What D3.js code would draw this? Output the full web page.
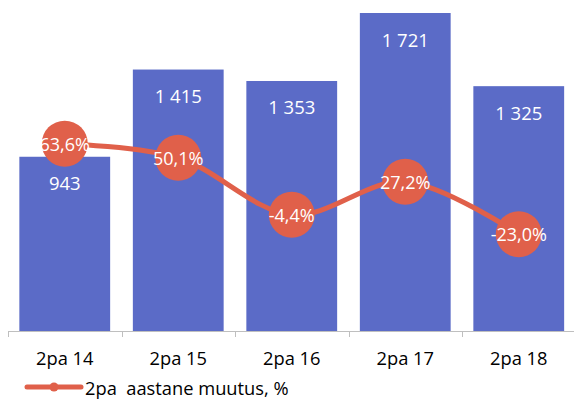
<!DOCTYPE html>
<html>
<head>
<meta charset="utf-8">
<script src="https://cdn.jsdelivr.net/npm/d3@7"></script>
<style>
  body { margin: 0; background: #fff; }
  svg { display: block; font-family: "Open Sans", sans-serif; }
</style>
</head>
<body>
<div id="chart"></div>
<script>
// Chart data
var categories = ['2pa 14', '2pa 15', '2pa 16', '2pa 17', '2pa 18'];
var counts = [943, 1415, 1353, 1721, 1325];
var changes = [63.6, 50.1, -4.4, 27.2, -23.0];
var legendLabel = '2pa  aastane muutus, %';

var width = 574;
var height = 401;
var baseY = 331;

var barColor = '#5B6BC7';
var lineColor = '#E0604A';

// Estonian number format: comma decimal, space thousands, plain hyphen minus
var et = d3.formatLocale({ decimal: ',', thousands: ' ', grouping: [3], currency: ['', ' €'], minus: '-' });
var fmtCount = et.format(',d');
var fmtPct = function (v) { return et.format('.1f')(v) + '%'; };

var svg = d3.select('#chart').append('svg')
  .attr('width', width)
  .attr('height', height);

var x = d3.scaleBand()
  .domain(categories)
  .range([8, 575.5])
  .paddingInner(0.2)
  .paddingOuter(0.1);

// primary axis for bars
var y = d3.scaleLinear()
  .domain([0, 1721])
  .range([baseY, 13]);

// secondary axis for the % line
var y2 = d3.scaleLinear()
  .domain([0, 60])
  .range([210.1, 147.4]);

var step = x.step();
function center(d) { return x(d) + x.bandwidth() / 2; }

// bars
svg.selectAll('.bar')
  .data(counts)
  .enter().append('rect')
  .attr('class', 'bar')
  .attr('x', function (d, i) { return x(categories[i]); })
  .attr('y', function (d) { return y(d); })
  .attr('width', x.bandwidth())
  .attr('height', function (d) { return baseY - y(d); })
  .attr('fill', barColor);

// bar value labels
svg.selectAll('.bar-label')
  .data(counts)
  .enter().append('text')
  .attr('class', 'bar-label')
  .attr('x', function (d, i) { return center(categories[i]); })
  .attr('y', function (d) { return y(d) + 26; })
  .attr('text-anchor', 'middle')
  .attr('dominant-baseline', 'central')
  .attr('fill', '#fff')
  .attr('font-size', 18.5)
  .style('white-space', 'pre')
  .text(function (d) { return fmtCount(d); });

// category axis
var axis = svg.append('g').attr('class', 'x-axis');
axis.append('line')
  .attr('x1', 8).attr('x2', width)
  .attr('y1', baseY + 0.5).attr('y2', baseY + 0.5)
  .attr('stroke', '#BFBFBF');

var tickPos = categories.map(function (c) { return center(c) - step / 2; });
tickPos.push(center(categories[categories.length - 1]) + step / 2);
axis.selectAll('.tick')
  .data(tickPos)
  .enter().append('line')
  .attr('x1', function (d) { return Math.round(d) + 0.5; })
  .attr('x2', function (d) { return Math.round(d) + 0.5; })
  .attr('y1', baseY).attr('y2', baseY + 6)
  .attr('stroke', '#BFBFBF');

axis.selectAll('.cat-label')
  .data(categories)
  .enter().append('text')
  .attr('x', function (d) { return center(d); })
  .attr('y', 357)
  .attr('text-anchor', 'middle')
  .attr('dominant-baseline', 'central')
  .attr('fill', '#000')
  .attr('font-size', 18.3)
  .text(function (d) { return d; });

// change line
var line = d3.line()
  .x(function (d, i) { return center(categories[i]); })
  .y(function (d) { return y2(d); })
  .curve(d3.curveCatmullRom.alpha(0.5));

svg.append('path')
  .datum(changes)
  .attr('d', line)
  .attr('fill', 'none')
  .attr('stroke', lineColor)
  .attr('stroke-width', 5)
  .attr('stroke-linecap', 'round');

svg.selectAll('.marker')
  .data(changes)
  .enter().append('circle')
  .attr('class', 'marker')
  .attr('cx', function (d, i) { return center(categories[i]); })
  .attr('cy', function (d) { return y2(d); })
  .attr('r', 23)
  .attr('fill', lineColor);

svg.selectAll('.pct-label')
  .data(changes)
  .enter().append('text')
  .attr('class', 'pct-label')
  .attr('x', function (d, i) { return center(categories[i]); })
  .attr('y', function (d) { return y2(d); })
  .attr('text-anchor', 'middle')
  .attr('dominant-baseline', 'central')
  .attr('fill', '#fff')
  .attr('font-size', 18)
  .text(function (d) { return fmtPct(d); });

// legend
var legend = svg.append('g').attr('class', 'legend');
legend.append('line')
  .attr('x1', 27).attr('x2', 81)
  .attr('y1', 387).attr('y2', 387)
  .attr('stroke', lineColor)
  .attr('stroke-width', 5)
  .attr('stroke-linecap', 'round');
legend.append('circle')
  .attr('cx', 54).attr('cy', 387).attr('r', 4.5)
  .attr('fill', lineColor);
legend.append('text')
  .attr('x', 85).attr('y', 387)
  .attr('dominant-baseline', 'central')
  .attr('font-size', 18.3)
  .attr('fill', '#000')
  .style('white-space', 'pre')
  .text(legendLabel);
</script>
</body>
</html>
